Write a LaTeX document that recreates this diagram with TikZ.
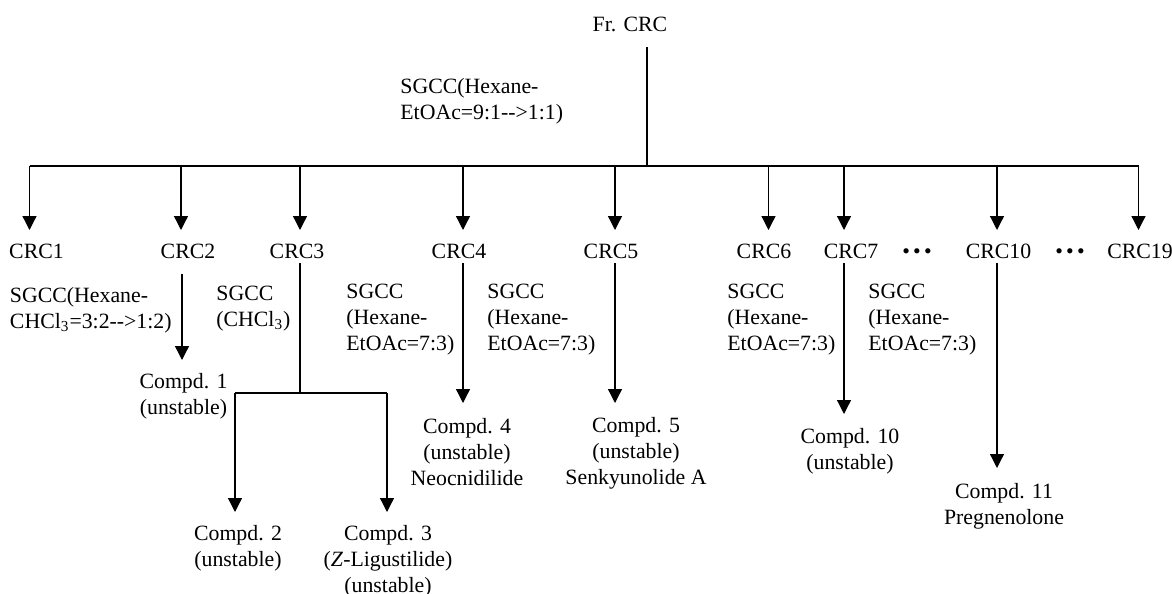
\documentclass[tikz,border=0pt]{standalone}
\usepackage{fontspec}
\setmainfont{Liberation Serif}
\usetikzlibrary{arrows.meta}
\begin{document}
\begin{tikzpicture}[x=0.5pt,y=-0.5pt,
  every node/.style={inner sep=0pt,font=\fontsize{10.9}{13}\selectfont},
  ln/.style={line width=0.65pt,black},
  arr/.style={ln,-{Triangle[length=7pt,width=7pt]}}]
\useasboundingbox (0,0) rectangle (1172,594);
% root
\node[anchor=base] (root) at (630,32) {Fr. CRC};
\node[anchor=base west] (sg0) at (400,93) {\begin{tabular}[t]{@{}l@{}}SGCC(Hexane-\\EtOAc=9:1-{}->1:1)\end{tabular}};
\coordinate (r0) at (647,47);
\coordinate (bus) at (647,166);
\coordinate (bl) at (29.5,166);
\coordinate (br) at (1138.5,166);
\draw[ln] (r0) -- (bus);
\draw[ln] (bl) -- (br);
% first-level labels
\node[anchor=base] (c1) at (36.5,258) {CRC1};
\node[anchor=base] (c2) at (188,258) {CRC2};
\node[anchor=base] (c3) at (297,258) {CRC3};
\node[anchor=base] (c4) at (459,258) {CRC4};
\node[anchor=base] (c5) at (611,258) {CRC5};
\node[anchor=base] (c6) at (764,258) {CRC6};
\node[anchor=base] (c7) at (851,258) {CRC7};
\node[anchor=base] (d1) at (917,258) {\textbullet\hspace{1.6pt}\textbullet\hspace{1.6pt}\textbullet};
\node[anchor=base] (c10) at (998.5,258) {CRC10};
\node[anchor=base] (d2) at (1070,258) {\textbullet\hspace{1.6pt}\textbullet\hspace{1.6pt}\textbullet};
\node[anchor=base] (c19) at (1140,258) {CRC19};
% first-level arrows
\foreach \x/\n in {29.5/1,181/2,300/3,463/4,615/5,768.5/6,844/7,997/10,1138.5/19}{
  \coordinate (b\n) at (\x,166);
  \coordinate (t\n) at (\x,230);
  \draw[arr] (b\n) -- (t\n);
}
% CRC1
\node[anchor=base west] (s1) at (9.6,302) {\begin{tabular}[t]{@{}l@{}}SGCC(Hexane-\\CHCl\textsubscript{3}=3:2-{}->1:2)\end{tabular}};
% CRC2
\coordinate (u2) at (182,274);
\coordinate (v2) at (182,360);
\draw[arr] (u2) -- (v2);
\node[anchor=base] (p1) at (183.5,388) {\begin{tabular}[t]{@{}c@{}}Compd. 1\\(unstable)\end{tabular}};
% CRC3
\node[anchor=base west] (s3) at (216,300) {\begin{tabular}[t]{@{}l@{}}SGCC\\(CHCl\textsubscript{3})\end{tabular}};
\coordinate (u3) at (300,263);
\coordinate (j3) at (300,393);
\coordinate (j3l) at (235,393);
\coordinate (j3r) at (387,393);
\coordinate (v3l) at (235,512);
\coordinate (v3r) at (387,512);
\draw[ln] (u3) -- (j3);
\draw[ln] (j3l) -- (j3r);
\draw[arr] (j3l) -- (v3l);
\draw[arr] (j3r) -- (v3r);
\node[anchor=base] (p2) at (238,540) {\begin{tabular}[t]{@{}c@{}}Compd. 2\\(unstable)\end{tabular}};
\node[anchor=base] (p3) at (388,540) {\begin{tabular}[t]{@{}c@{}}Compd. 3\\(\textit{Z}-Ligustilide)\\(unstable)\end{tabular}};
% CRC4
\node[anchor=base west] (s4a) at (346,298) {\begin{tabular}[t]{@{}l@{}}SGCC\\(Hexane-\\EtOAc=7:3)\end{tabular}};
\node[anchor=base west] (s4b) at (487,298) {\begin{tabular}[t]{@{}l@{}}SGCC\\(Hexane-\\EtOAc=7:3)\end{tabular}};
\coordinate (u4) at (463,263);
\coordinate (v4) at (463,403);
\draw[arr] (u4) -- (v4);
\node[anchor=base] (p4) at (467,433) {\begin{tabular}[t]{@{}c@{}}Compd. 4\\(unstable)\\Neocnidilide\end{tabular}};
% CRC5
\coordinate (u5) at (615,263);
\coordinate (v5) at (615,403);
\draw[arr] (u5) -- (v5);
\node[anchor=base] (p5) at (636,432) {\begin{tabular}[t]{@{}c@{}}Compd. 5\\(unstable)\\Senkyunolide A\end{tabular}};
% CRC6 / CRC7
\node[anchor=base west] (s6) at (727,298) {\begin{tabular}[t]{@{}l@{}}SGCC\\(Hexane-\\EtOAc=7:3)\end{tabular}};
\node[anchor=base west] (s7) at (868,298) {\begin{tabular}[t]{@{}l@{}}SGCC\\(Hexane-\\EtOAc=7:3)\end{tabular}};
\coordinate (u7) at (844,263);
\coordinate (v7) at (844,414);
\draw[arr] (u7) -- (v7);
\node[anchor=base] (p10) at (850,443) {\begin{tabular}[t]{@{}c@{}}Compd. 10\\(unstable)\end{tabular}};
% CRC10
\coordinate (u10) at (997,263);
\coordinate (v10) at (997,468);
\draw[arr] (u10) -- (v10);
\node[anchor=base] (p11) at (1004,498) {\begin{tabular}[t]{@{}c@{}}Compd. 11\\Pregnenolone\end{tabular}};
\end{tikzpicture}
\end{document}
